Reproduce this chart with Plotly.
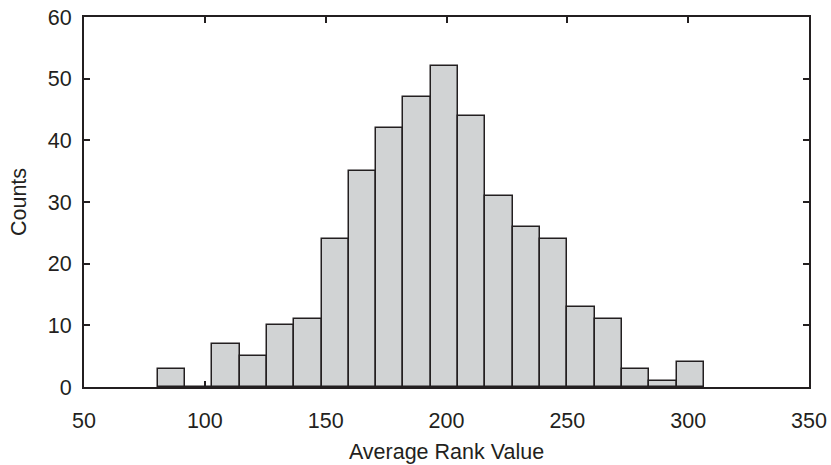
import plotly.graph_objects as go

# Histogram of average rank values: bin edges and counts per bin
bin_edges = [80.5, 91.8, 103.1, 114.4, 125.7, 137.0, 148.3, 159.6, 170.9, 182.2,
             193.5, 204.8, 216.1, 227.4, 238.7, 250.0, 261.3, 272.6, 283.9, 295.2, 306.5]
counts = [3, 0, 7, 5, 10, 11, 24, 35, 42, 47, 52, 44, 31, 26, 24, 13, 11, 3, 1, 4]

x_ticks = [50, 100, 150, 200, 250, 300, 350]
y_ticks = [0, 10, 20, 30, 40, 50, 60]

centers = [(a + b) / 2 for a, b in zip(bin_edges[:-1], bin_edges[1:])]
widths = [b - a for a, b in zip(bin_edges[:-1], bin_edges[1:])]

ink = "#231f20"
font = dict(family="Liberation Sans, Arial, sans-serif", size=21.5, color=ink)

fig = go.Figure(
    go.Bar(
        x=centers,
        y=counts,
        width=widths,
        marker=dict(color="#d1d3d4", line=dict(color=ink, width=1.5)),
        hoverinfo="x+y",
    )
)

axis_common = dict(
    showline=True,
    linecolor=ink,
    linewidth=2,
    mirror="ticks",
    ticks="inside",
    ticklen=6,
    tickwidth=1.5,
    tickcolor=ink,
    showgrid=False,
    zeroline=False,
    tickfont=font,
    layer="below traces",
    automargin=False,
)

fig.update_xaxes(
    range=[50, 350],
    tickvals=x_ticks,
    ticklabelstandoff=13,
    title=dict(text="Average Rank Value", font=font, standoff=12),
    **axis_common,
)
fig.update_yaxes(
    range=[0, 60],
    tickvals=y_ticks,
    ticklabelstandoff=6,
    title=dict(text="Counts", font=font, standoff=15),
    **axis_common,
)

fig.update_layout(
    width=831,
    height=465,
    margin=dict(l=84, r=22, t=17, b=78),
    paper_bgcolor="white",
    plot_bgcolor="white",
    showlegend=False,
    bargap=0,
    font=font,
)

fig.write_html("out.html")
